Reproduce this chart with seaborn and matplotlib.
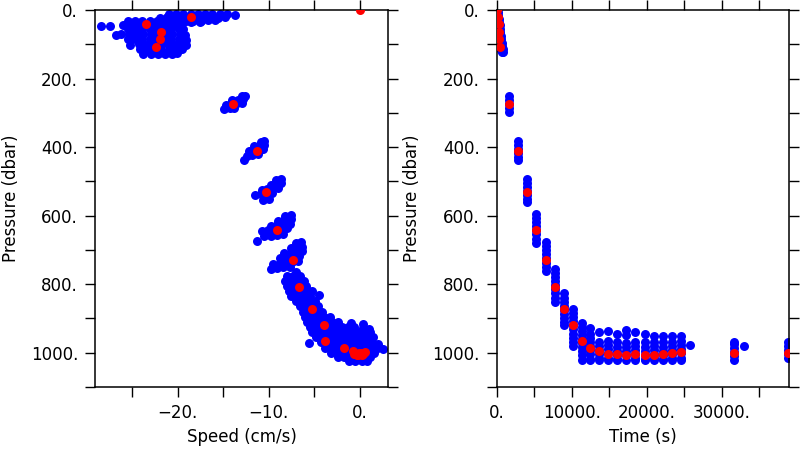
import matplotlib
matplotlib.use("Agg")
import matplotlib.pyplot as plt
import seaborn as sns
from matplotlib.ticker import MultipleLocator, FuncFormatter

# ---- bin means (red) ----
mean_pres = [0, 19, 42, 63, 86, 108, 275, 410, 532, 642, 728, 809, 873, 920, 966, 987,
             996, 1005, 1003, 1007, 1003, 1006, 1006, 1005, 1002, 997, 1002, 1002]
mean_speed = [0.0, -18.5, -23.5, -21.8, -22.0, -22.4, -13.9, -11.3, -10.3, -9.05, -7.3, -6.7,
              -5.3, -3.9, -3.8, -1.7, -0.8, -0.5, -0.6, -0.2, 0.0, -0.3, 0.2, 0.4, 0.1, 0.6, -0.1, 0.3]
mean_time = [100, 170, 240, 300, 360, 420, 1650, 2890, 4100, 5300, 6510, 7710, 8920, 10120,
             11330, 12490, 13700, 14900, 16100, 17310, 18510, 19720, 20930, 22130, 23340,
             24540, 31680, 38900]

# ---- individual samples (blue), speed vs pressure ----
obs_speed = [
    # surface band
    -21.0, -20.2, -19.4, -18.6, -17.8, -17.0, -16.2, -15.4, -14.6, -13.7,
    -22.0, -21.2, -20.4, -19.6, -18.8, -18.0, -17.2, -16.4, -15.6, -14.8,
    -25.5, -24.7, -23.9, -23.1, -22.3, -21.5, -20.7, -19.9, -19.1, -18.3, -17.5, -16.7, -15.9,
    -28.4, -27.5, -26.0, -25.2, -24.4, -23.6, -22.8, -22.0, -21.2, -20.4, -19.6, -18.5, -17.6,
    -25.5, -24.7, -23.9, -23.1, -22.3, -21.5, -20.7, -19.9, -19.4,
    -26.8, -26.2, -25.4, -24.6, -23.8, -23.0, -22.2, -21.4, -20.6, -19.8, -19.2,
    -25.5, -24.7, -23.9, -23.1, -22.3, -21.5, -20.7, -19.9, -19.1,
    -25.3, -24.3, -23.5, -22.7, -21.9, -21.1, -20.3, -19.5, -19.1,
    -24.2, -23.4, -22.6, -21.8, -21.0, -20.2, -19.5,
    -23.8, -23.0, -22.2, -21.4, -20.6, -20.1,
    # ~275 dbar
    -13.0, -12.6, -14.0, -13.4, -12.8, -14.7, -14.1, -13.5, -13.0, -14.9, -14.3, -13.8,
    # ~410 dbar
    -10.9, -10.5, -11.6, -11.0, -10.5, -12.2, -11.6, -11.0, -10.6, -12.4, -11.8, -11.2, -12.7,
    # ~530 dbar
    -9.2, -8.7, -9.8, -9.2, -8.7, -10.8, -10.2, -9.6, -9.0, -11.5, -10.9, -10.3, -9.7, -10.6, -10.0,
    # ~640 dbar
    -8.2, -7.6, -9.0, -8.3, -7.6, -9.8, -9.1, -8.4, -7.7, -10.8, -10.1, -9.4, -8.7, -8.0,
    -10.5, -9.8, -9.1, -8.4, -11.25,
    # ~730 dbar
    -7.0, -6.5, -7.6, -6.9, -6.3, -8.3, -7.6, -6.9, -6.3, -8.8, -8.1, -7.4, -6.7,
    -9.5, -8.8, -8.1, -7.4, -6.8, -9.8, -9.1, -8.4, -7.7, -7.0,
    # deep slope
    -8.0, -7.3, -6.6,
    -8.2, -7.5, -6.8, -6.1,
    -8.0, -7.3, -6.6, -5.9,
    -7.8, -7.1, -6.4, -5.7, -5.2,
    -7.6, -6.9, -6.2, -5.5, -4.5,
    -7.0, -6.3, -5.6, -4.9,
    -6.6, -5.9, -5.2, -4.6,
    -6.2, -5.5, -4.8, -4.2,
    -6.0, -5.3, -4.6, -3.9, -3.3,
    -5.8, -5.1, -4.4, -3.7, -3.0, -2.4, -1.0, 0.3,
    -5.5, -4.8, -4.1, -3.4, -2.7, -2.0, -1.3, -0.6, 0.3, 1.0,
    -5.2, -4.5, -3.8, -3.1, -2.4, -1.7, -1.0, -0.3, 0.4, 1.1,
    -4.8, -4.1, -3.4, -2.7, -2.0, -1.3, -0.6, 0.1, 0.8, 1.5,
    -5.6, -4.3, -3.6, -2.9, -2.2, -1.5, -0.8, -0.1, 0.6, 1.3, 2.0,
    -3.8, -3.1, -2.4, -1.7, -1.0, -0.3, 0.4, 1.1, 1.8, 2.5,
    -3.2, -2.5, -1.8, -1.1, -0.4, 0.3, 1.0, 1.6,
    -2.4, -1.7, -1.0, -0.3, 0.4, 1.1,
    -1.2, -0.5, 0.2, 0.8,
]
obs_pres = [
    12, 11, 12, 11, 12, 11, 12, 11, 12, 14,
    22, 21, 22, 21, 22, 21, 22, 21, 22, 21,
    32, 31, 32, 31, 32, 31, 31, 30, 31, 32, 31, 30, 29,
    47, 47, 44, 43, 44, 43, 44, 43, 44, 43, 44, 36, 35,
    56, 55, 56, 55, 56, 55, 56, 55, 56,
    73, 70, 70, 71, 70, 71, 70, 71, 70, 71, 72,
    86, 85, 86, 85, 86, 85, 86, 85, 88,
    102, 100, 101, 100, 101, 100, 101, 100, 102,
    115, 116, 115, 116, 115, 116, 114,
    127, 128, 127, 128, 127, 126,
    252, 250, 264, 262, 260, 276, 274, 272, 270, 288, 287, 285,
    385, 382, 398, 396, 394, 412, 410, 408, 406, 425, 423, 421, 438,
    495, 493, 510, 508, 506, 525, 523, 521, 519, 540, 538, 536, 534, 553, 551,
    600, 598, 615, 613, 611, 630, 628, 626, 624, 645, 643, 641, 639, 637,
    660, 658, 656, 654, 674,
    680, 678, 695, 693, 691, 710, 708, 706, 704, 725, 723, 721, 719,
    740, 738, 736, 734, 732, 755, 753, 751, 749, 765,
    775, 775, 775,
    790, 790, 790, 790,
    805, 805, 805, 805,
    820, 820, 820, 820, 820,
    835, 835, 835, 835, 832,
    850, 850, 850, 850,
    865, 865, 865, 865,
    880, 880, 880, 880,
    895, 895, 895, 895, 895,
    910, 910, 910, 910, 910, 910, 912, 915,
    925, 925, 925, 925, 925, 925, 925, 925, 928, 930,
    940, 940, 940, 940, 940, 940, 940, 940, 940, 940,
    955, 955, 955, 955, 955, 955, 955, 955, 955, 955,
    971, 970, 970, 970, 970, 970, 970, 970, 970, 970, 975,
    985, 985, 985, 985, 985, 985, 985, 985, 988, 990,
    1000, 1000, 1000, 1000, 1000, 1000, 1000, 1000,
    1012, 1012, 1012, 1012, 1012, 1012,
    1025, 1025, 1025, 1025,
]

# ---- individual samples (blue), time vs pressure ----
obs_time = (
    [150, 200, 260, 320, 380, 440, 500, 560, 620, 680, 740, 800, 860, 700, 600]
    + [1650] * 5 + [2890] * 6 + [4100] * 7 + [5300] * 8 + [6510] * 8
    + [7710] * 9 + [8920] * 9 + [10120] * 10 + [11330] * 10 + [12490] * 9
    + [13700] * 7 + [14900] * 7 + [16100] * 7 + [17310] * 7 + [18510] * 7
    + [19720] * 7 + [20930] * 7 + [22130] * 7 + [23340] * 7 + [24540] * 7 + [25760]
    + [31680] * 6 + [32940] + [38900] * 5
)
obs_tpres = (
    [5, 15, 25, 35, 45, 55, 65, 75, 85, 95, 105, 115, 122, 124, 118]
    + [250, 262, 274, 286, 297]
    + [382, 394, 406, 418, 430, 438]
    + [492, 504, 516, 528, 540, 552, 560]
    + [595, 607, 619, 631, 643, 655, 667, 679]
    + [677, 689, 701, 713, 725, 737, 749, 761]
    + [755, 767, 779, 791, 803, 815, 827, 839, 851]
    + [827, 839, 851, 863, 875, 887, 899, 911, 918]
    + [872, 884, 896, 908, 920, 932, 944, 956, 968, 980]
    + [912, 924, 936, 948, 960, 972, 984, 996, 1008, 1020]
    + [929, 945, 957, 969, 981, 993, 1005, 1017, 1022]
    + [940, 968, 980, 992, 1004, 1016, 1022]
    + [936, 966, 978, 990, 1002, 1014, 1022]
    + [944, 970, 982, 994, 1006, 1018, 1022]
    + [934, 948, 972, 984, 996, 1008, 1020]
    + [940, 968, 980, 992, 1004, 1016, 1022]
    + [946, 970, 982, 994, 1006, 1018, 1022]
    + [950, 968, 980, 992, 1004, 1016, 1022]
    + [950, 970, 982, 994, 1006, 1018, 1022]
    + [952, 968, 980, 992, 1004, 1016, 1022]
    + [950, 966, 978, 990, 1002, 1014, 1020]
    + [976]
    + [968, 975, 987, 999, 1011, 1020]
    + [981]
    + [968, 980, 992, 1004, 1016]
)

sns.set_style("ticks")
plt.rcParams["font.family"] = ["DejaVu Sans"]

fig = plt.figure(figsize=(8, 4.5), dpi=100)
ax1 = fig.add_axes([0.11875, 0.14, 0.36625, 0.8378])
ax2 = fig.add_axes([0.6209, 0.14, 0.3654, 0.8378])


def fmt_num(step):
    def f(v, pos):
        if abs(round(v / step) * step - v) > 1e-6:
            return ""
        s = "%d." % round(v)
        return s.replace("-", "\u2212")
    return FuncFormatter(f)


sns.scatterplot(x=obs_speed, y=obs_pres, color="blue", s=42, linewidth=0, ax=ax1, zorder=2)
sns.scatterplot(x=mean_speed, y=mean_pres, color="red", s=42, linewidth=0, ax=ax1, zorder=3)
sns.scatterplot(x=obs_time, y=obs_tpres, color="blue", s=42, linewidth=0, ax=ax2, zorder=2)
sns.scatterplot(x=mean_time, y=mean_pres, color="red", s=42, linewidth=0, ax=ax2, zorder=3)

ax1.set_xlim(-29.1, 3.1)
ax2.set_xlim(0, 39000)
ax1.xaxis.set_major_locator(MultipleLocator(5))
ax1.xaxis.set_major_formatter(fmt_num(10))
ax2.xaxis.set_major_locator(MultipleLocator(5000))
ax2.xaxis.set_major_formatter(fmt_num(10000))
ax1.set_xlabel("Speed (cm/s)", fontsize=12, labelpad=4, color="black")
ax2.set_xlabel("Time (s)", fontsize=12, labelpad=4, color="black")

for ax in (ax1, ax2):
    ax.set_ylim(1100, 0)
    ax.yaxis.set_major_locator(MultipleLocator(100))
    ax.yaxis.set_major_formatter(fmt_num(200))
    ax.set_ylabel("Pressure (dbar)", fontsize=12, labelpad=8, color="black")
    ax.tick_params(axis="both", which="major", direction="out", length=7.2, width=1.0,
                   top=True, right=True, labelsize=12, colors="black", pad=5)
    for sp in ax.spines.values():
        sp.set_visible(True)
        sp.set_linewidth(1.1)
        sp.set_color("black")

fig.savefig("out.png", dpi=100)
